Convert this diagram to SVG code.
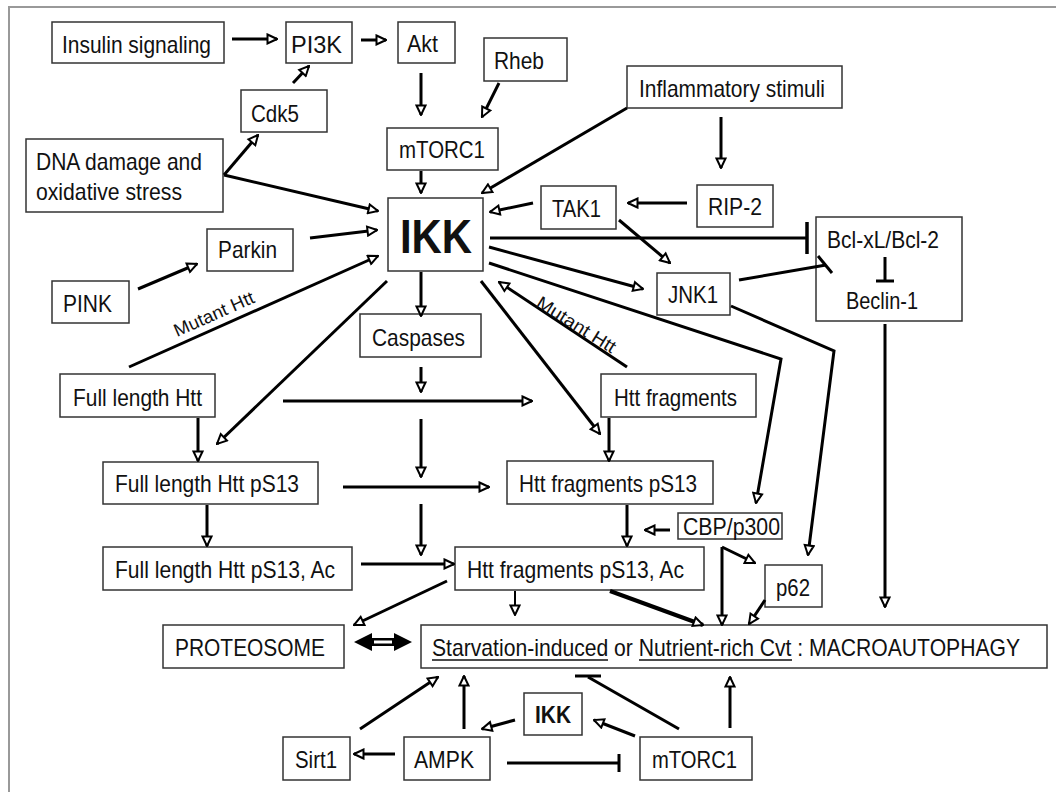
<svg xmlns="http://www.w3.org/2000/svg" width="1056" height="792" viewBox="0 0 1056 792">
<style>
.bx{fill:#fff;stroke:#333;stroke-width:1.5}
.t{font-family:"Liberation Sans",Arial,sans-serif;font-size:24px;fill:#111}
.b{font-weight:bold}
.m{font-size:18px}
.c{fill:none;stroke:#000;stroke-width:3}
.a{marker-end:url(#ah)}
.fr{stroke:#999;stroke-width:2;fill:none}
</style>
<defs>
<marker id="ah" markerUnits="userSpaceOnUse" viewBox="0 0 12 12" markerWidth="12" markerHeight="12" refX="11" refY="6" orient="auto">
<path d="M1.5,1.5 L11,6 L1.5,10.5 Z" fill="#fff" stroke="#000" stroke-width="2" stroke-linejoin="miter"/>
</marker>
</defs>
<rect width="1056" height="792" fill="#fff"/>
<path class="fr" d="M9,792 L9,7 L1056,7"/>

<g id="insulin"><rect class="bx" x="52" y="22" width="172" height="41"/><text class="t" x="62" y="53" textLength="149" lengthAdjust="spacingAndGlyphs">Insulin signaling</text></g>
<g id="pi3k"><rect class="bx" x="286" y="22" width="66" height="41"/><text class="t" x="291" y="53" textLength="51" lengthAdjust="spacingAndGlyphs">PI3K</text></g>
<g id="akt"><rect class="bx" x="398" y="22" width="57" height="41"/><text class="t" x="407" y="52" textLength="31" lengthAdjust="spacingAndGlyphs">Akt</text></g>
<g id="rheb"><rect class="bx" x="484" y="38" width="83" height="43"/><text class="t" x="494" y="69" textLength="50" lengthAdjust="spacingAndGlyphs">Rheb</text></g>
<g id="cdk5"><rect class="bx" x="241" y="90" width="86" height="42"/><text class="t" x="251" y="122" textLength="48" lengthAdjust="spacingAndGlyphs">Cdk5</text></g>
<g id="dna"><rect class="bx" x="26" y="139" width="197" height="73"/><text class="t" x="36" y="170" textLength="166" lengthAdjust="spacingAndGlyphs">DNA damage and</text><text class="t" x="36" y="200" textLength="146" lengthAdjust="spacingAndGlyphs">oxidative stress</text></g>
<g id="mtorc1-top"><rect class="bx" x="387" y="128" width="111" height="42"/><text class="t" x="399" y="158" textLength="86" lengthAdjust="spacingAndGlyphs">mTORC1</text></g>
<g id="inflammatory"><rect class="bx" x="627" y="66" width="215" height="42"/><text class="t" x="639" y="97" textLength="186" lengthAdjust="spacingAndGlyphs">Inflammatory stimuli</text></g>
<g id="tak1"><rect class="bx" x="541" y="186" width="75" height="43"/><text class="t" x="552" y="217" textLength="49" lengthAdjust="spacingAndGlyphs">TAK1</text></g>
<g id="rip2"><rect class="bx" x="697" y="185" width="76" height="42"/><text class="t" x="708" y="215" textLength="54" lengthAdjust="spacingAndGlyphs">RIP-2</text></g>
<g id="ikk"><rect class="bx" x="388" y="198" width="95" height="73"/><text class="t b" x="400" y="253" style="font-size:49px" textLength="72" lengthAdjust="spacingAndGlyphs">IKK</text></g>
<g id="bcl"><rect class="bx" x="816" y="217" width="146" height="104"/><text class="t" x="827" y="248" textLength="112" lengthAdjust="spacingAndGlyphs">Bcl-xL/Bcl-2</text><text class="t" x="846" y="309" textLength="72" lengthAdjust="spacingAndGlyphs">Beclin-1</text></g>
<g id="parkin"><rect class="bx" x="207" y="229" width="86" height="42"/><text class="t" x="218" y="258" textLength="59" lengthAdjust="spacingAndGlyphs">Parkin</text></g>
<g id="pink"><rect class="bx" x="52" y="281" width="77" height="42"/><text class="t" x="63" y="312" textLength="49" lengthAdjust="spacingAndGlyphs">PINK</text></g>
<g id="jnk1"><rect class="bx" x="657" y="273" width="73" height="42"/><text class="t" x="668" y="303" textLength="50" lengthAdjust="spacingAndGlyphs">JNK1</text></g>
<g id="caspases"><rect class="bx" x="360" y="314" width="121" height="43"/><text class="t" x="372" y="346" textLength="93" lengthAdjust="spacingAndGlyphs">Caspases</text></g>
<g id="flhtt"><rect class="bx" x="60" y="374" width="155" height="43"/><text class="t" x="73" y="406" textLength="129" lengthAdjust="spacingAndGlyphs">Full length Htt</text></g>
<g id="httfrag"><rect class="bx" x="601" y="374" width="155" height="43"/><text class="t" x="614" y="406" textLength="123" lengthAdjust="spacingAndGlyphs">Htt fragments</text></g>
<g id="flhtt-ps13"><rect class="bx" x="103" y="462" width="215" height="42"/><text class="t" x="115" y="492" textLength="184" lengthAdjust="spacingAndGlyphs">Full length Htt pS13</text></g>
<g id="httfrag-ps13"><rect class="bx" x="507" y="461" width="206" height="43"/><text class="t" x="519" y="492" textLength="178" lengthAdjust="spacingAndGlyphs">Htt fragments pS13</text></g>
<g id="cbp"><rect class="bx" x="678" y="513" width="104" height="26"/><text class="t" x="683" y="535" textLength="97" lengthAdjust="spacingAndGlyphs">CBP/p300</text></g>
<g id="flhtt-ac"><rect class="bx" x="103" y="547" width="249" height="43"/><text class="t" x="115" y="578" textLength="220" lengthAdjust="spacingAndGlyphs">Full length Htt pS13, Ac</text></g>
<g id="httfrag-ac"><rect class="bx" x="455" y="547" width="249" height="43"/><text class="t" x="467" y="578" textLength="217" lengthAdjust="spacingAndGlyphs">Htt fragments pS13, Ac</text></g>
<g id="p62"><rect class="bx" x="765" y="565" width="57" height="42"/><text class="t" x="776" y="596" textLength="34" lengthAdjust="spacingAndGlyphs">p62</text></g>
<g id="proteosome"><rect class="bx" x="163" y="625" width="181" height="43"/><text class="t" x="175" y="656" textLength="150" lengthAdjust="spacingAndGlyphs">PROTEOSOME</text></g>
<g id="macroautophagy"><rect class="bx" x="421" y="625" width="626" height="43"/>
<text class="t" transform="translate(432,656) scale(0.881,1)">Starvation-induced or Nutrient-rich Cvt : MACROAUTOPHAGY</text>
<path d="M432,660 L608,660 M639,660 L792,660" stroke="#111" stroke-width="1.6"/></g>
<g id="sirt1"><rect class="bx" x="283" y="737" width="67" height="43"/><text class="t" x="295" y="768" textLength="42" lengthAdjust="spacingAndGlyphs">Sirt1</text></g>
<g id="ampk"><rect class="bx" x="404" y="737" width="86" height="43"/><text class="t" x="414" y="768" textLength="60" lengthAdjust="spacingAndGlyphs">AMPK</text></g>
<g id="ikk-bottom"><rect class="bx" x="524" y="693" width="58" height="42"/><text class="t b" x="535" y="723" textLength="36" lengthAdjust="spacingAndGlyphs">IKK</text></g>
<g id="mtorc1-bottom"><rect class="bx" x="640" y="737" width="112" height="43"/><text class="t" x="652" y="768" textLength="85" lengthAdjust="spacingAndGlyphs">mTORC1</text></g>

<g id="connectors">
<path class="c a" d="M232,39 L277,39"/>
<path class="c a" d="M361,40 L386,40"/>
<path class="c a" d="M293,83 L309,66"/>
<path class="c a" d="M224,175 L258,135"/>
<path class="c a" d="M224,175 L378,211"/>
<path class="c a" d="M421,73 L421,115"/>
<path class="c a" d="M499,83 L482,117"/>
<path class="c a" d="M421,171 L421,193"/>
<path class="c a" d="M627,108 L482,193"/>
<path class="c a" d="M721,117 L721,168"/>
<path class="c a" d="M687,203 L628,203"/>
<path class="c a" d="M533,203 L490,212"/>
<path class="c a" d="M619,220 L670,263"/>
<path class="c" d="M490,238 L807,238"/>
<path class="c" style="stroke-width:3.5" d="M807,222 L807,254"/>
<path class="c a" d="M489,247 L643,289"/>
<path class="c" d="M739,280 L826,265"/>
<path class="c" d="M818,256 L832,273"/>
<path class="c" d="M885,257 L885,281"/>
<path class="c" d="M876,281 L894,281"/>
<path class="c a" d="M885,324 L885,607"/>
<path class="c a" d="M310,238 L377,230"/>
<path class="c a" d="M138,289 L197,264"/>
<path class="c a" d="M129,367 L378,256"/>
<path class="c a" d="M387,281 L217,444"/>
<path class="c a" d="M421,272 L421,316"/>
<path class="c a" d="M481,281 L600,434"/>
<path class="c a" d="M627,367 L499,282"/>
<path class="c a" d="M489,263 L781,359 L756,503"/>
<path class="c a" d="M731,306 L834,351 L808,555"/>
<path class="c a" d="M421,367 L421,392"/>
<path class="c a" d="M283,401 L532,401"/>
<path class="c a" d="M198,418 L198,461"/>
<path class="c a" d="M609,418 L609,461"/>
<path class="c a" d="M421,419 L421,477"/>
<path class="c a" d="M343,487 L489,487"/>
<path class="c a" d="M207,505 L207,546"/>
<path class="c a" d="M627,505 L627,546"/>
<path class="c a" d="M670,530 L645,530"/>
<path class="c a" d="M421,504 L421,555"/>
<path class="c a" d="M361,564 L454,564"/>
<path class="c a" d="M722,547 L722,625"/>
<path class="c a" d="M722,547 L755,563"/>
<path class="c a" d="M765,600 L749,624"/>
<path class="c a" d="M447,581 L354,625"/>
<path class="c a" style="stroke-width:2" d="M515,591 L515,615"/>
<path class="c a" style="stroke-width:4" d="M610,591 L703,625"/>
<path d="M354,642 L372,633 L372,638 L394,638 L394,633 L412,642 L394,651 L394,646 L372,646 L372,651 Z" fill="#000"/>
<rect x="374" y="640.5" width="18" height="3" fill="#fff"/>
<path class="c a" d="M360,729 L438,677"/>
<path class="c a" d="M464,729 L464,676"/>
<path class="c a" d="M515,720 L482,729"/>
<path class="c a" d="M395,754 L354,754"/>
<path class="c" d="M507,763 L619,763"/>
<path class="c" d="M619,754 L619,772"/>
<path class="c a" d="M635,736 L594,720"/>
<path class="c" d="M679,729 L588,677"/>
<path class="c" d="M575,676 L601,676"/>
<path class="c a" d="M730,728 L730,677"/>
<text class="t m" transform="translate(177,337) rotate(-23.9)" textLength="86" lengthAdjust="spacingAndGlyphs">Mutant Htt</text>
<text class="t m" transform="translate(535,306) rotate(32)" textLength="90" lengthAdjust="spacingAndGlyphs">Mutant Htt</text>
</g>
</svg>
